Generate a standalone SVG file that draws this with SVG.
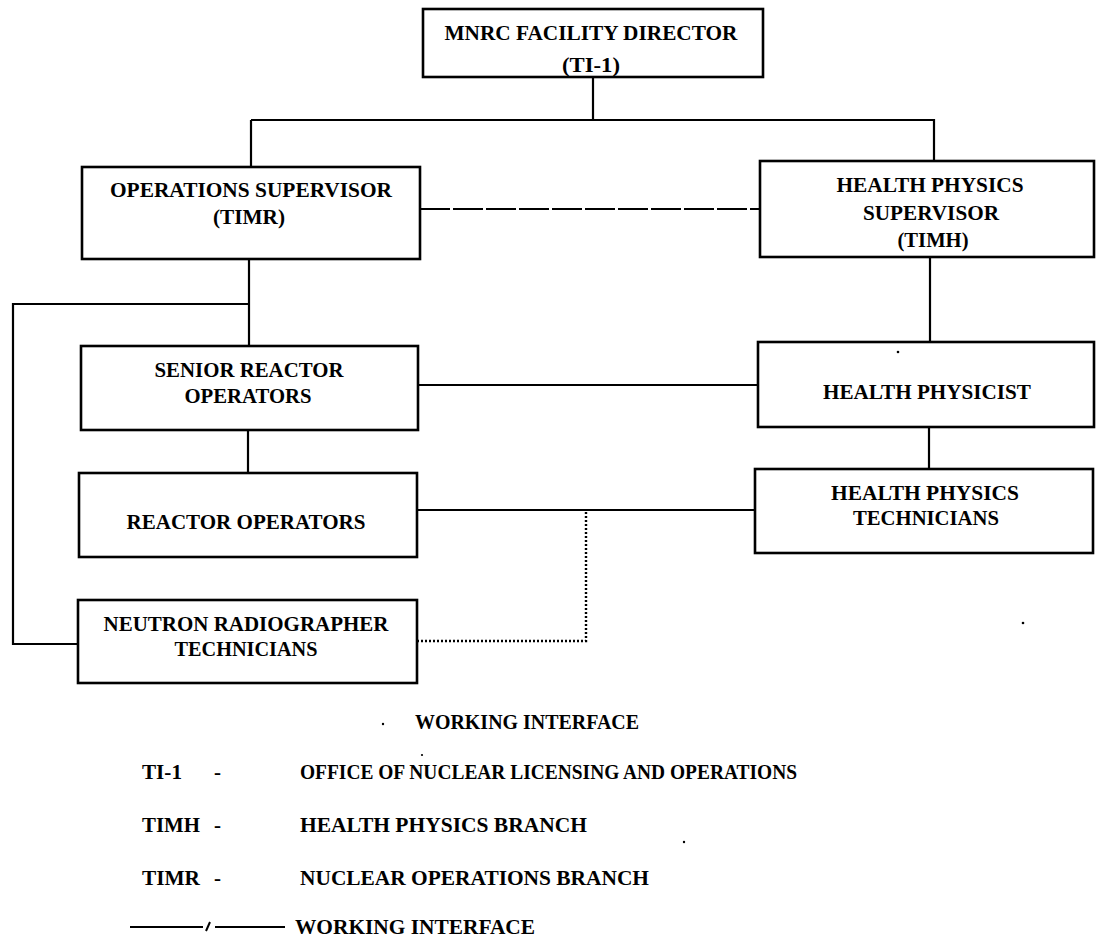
<svg xmlns="http://www.w3.org/2000/svg" width="1096" height="941" viewBox="0 0 1096 941">
<style>
  .box { fill: #ffffff; stroke: #000; stroke-width: 2.6; }
  .t { font-family: "Liberation Serif", "Times New Roman", serif; font-weight: bold; font-size: 21px; fill: #000; text-anchor: middle; }
  .l { font-family: "Liberation Serif", "Times New Roman", serif; font-weight: bold; font-size: 21px; fill: #000; }
  .c { fill: none; stroke: #000; stroke-width: 2.2; }
  .dash { stroke-dasharray: 30 3; }
  .dot { stroke-dasharray: 2 2; stroke-width: 2.4; }
</style>
<rect width="1096" height="941" fill="#ffffff"/>

<g id="connectors">
  <path class="c" d="M593 77 V120"/>
  <path class="c" d="M251 120 H934 V161"/>
  <path class="c" d="M251 120 V167"/>
  <path class="c dash" d="M420 209 H760"/>
  <path class="c" d="M930 257 V342"/>
  <path class="c" d="M249 259 V346"/>
  <path class="c" d="M249 304 H13 V644 H78"/>
  <path class="c" d="M418 385 H758"/>
  <path class="c" d="M929 427 V469"/>
  <path class="c" d="M248 430 V473"/>
  <path class="c" d="M417 510 H755"/>
  <path class="c dot" d="M417 641 H586 V512"/>
</g>

<g id="n-director">
  <rect class="box" x="423" y="9" width="340" height="68"/>
  <text class="t" x="591" y="40" textLength="293" lengthAdjust="spacingAndGlyphs">MNRC FACILITY DIRECTOR</text>
  <text class="t" x="591" y="72" textLength="58" lengthAdjust="spacingAndGlyphs">(TI-1)</text>
</g>

<g id="n-ops-supervisor">
  <rect class="box" x="82" y="167" width="338" height="92"/>
  <text class="t" x="251" y="197" textLength="282" lengthAdjust="spacingAndGlyphs">OPERATIONS SUPERVISOR</text>
  <text class="t" x="249" y="224" textLength="72" lengthAdjust="spacingAndGlyphs">(TIMR)</text>
</g>

<g id="n-hp-supervisor">
  <rect class="box" x="760" y="161" width="334" height="96"/>
  <text class="t" x="930" y="192" textLength="187" lengthAdjust="spacingAndGlyphs">HEALTH PHYSICS</text>
  <text class="t" x="931" y="220" textLength="136" lengthAdjust="spacingAndGlyphs">SUPERVISOR</text>
  <text class="t" x="933" y="247" textLength="71" lengthAdjust="spacingAndGlyphs">(TIMH)</text>
</g>

<g id="n-senior-reactor-operators">
  <rect class="box" x="81" y="346" width="337" height="84"/>
  <text class="t" x="249" y="377" textLength="189" lengthAdjust="spacingAndGlyphs">SENIOR REACTOR</text>
  <text class="t" x="248" y="403" textLength="127" lengthAdjust="spacingAndGlyphs">OPERATORS</text>
</g>

<g id="n-health-physicist">
  <rect class="box" x="758" y="342" width="336" height="85"/>
  <circle cx="898" cy="352" r="1.3" fill="#000"/>
  <text class="t" x="927" y="399" textLength="208" lengthAdjust="spacingAndGlyphs">HEALTH PHYSICIST</text>
</g>

<g id="n-reactor-operators">
  <rect class="box" x="79" y="473" width="338" height="84"/>
  <text class="t" x="246" y="529" textLength="239" lengthAdjust="spacingAndGlyphs">REACTOR OPERATORS</text>
</g>

<g id="n-hp-technicians">
  <rect class="box" x="755" y="469" width="338" height="84"/>
  <text class="t" x="925" y="500" textLength="188" lengthAdjust="spacingAndGlyphs">HEALTH PHYSICS</text>
  <text class="t" x="926" y="525" textLength="146" lengthAdjust="spacingAndGlyphs">TECHNICIANS</text>
</g>

<g id="n-neutron-radiographer">
  <rect class="box" x="78" y="600" width="339" height="83"/>
  <text class="t" x="246" y="631" textLength="285" lengthAdjust="spacingAndGlyphs">NEUTRON RADIOGRAPHER</text>
  <text class="t" x="246" y="656" textLength="143" lengthAdjust="spacingAndGlyphs">TECHNICIANS</text>
</g>

<g id="legend">
  <circle cx="383" cy="724" r="1.2" fill="#000"/>
  <text class="l" x="415" y="729" textLength="224" lengthAdjust="spacingAndGlyphs">WORKING INTERFACE</text>
  <circle cx="422" cy="755" r="1.1" fill="#000"/>
  <text class="l" x="142" y="779" textLength="40" lengthAdjust="spacingAndGlyphs">TI-1</text>
  <text class="l" x="214" y="779">-</text>
  <text class="l" x="300" y="779" textLength="497" lengthAdjust="spacingAndGlyphs">OFFICE OF NUCLEAR LICENSING AND OPERATIONS</text>
  <text class="l" x="142" y="832" textLength="58" lengthAdjust="spacingAndGlyphs">TIMH</text>
  <text class="l" x="214" y="832">-</text>
  <text class="l" x="300" y="832" textLength="287" lengthAdjust="spacingAndGlyphs">HEALTH PHYSICS BRANCH</text>
  <circle cx="684" cy="842" r="1.2" fill="#000"/>
  <text class="l" x="142" y="885" textLength="58" lengthAdjust="spacingAndGlyphs">TIMR</text>
  <text class="l" x="214" y="885">-</text>
  <text class="l" x="300" y="885" textLength="349" lengthAdjust="spacingAndGlyphs">NUCLEAR OPERATIONS BRANCH</text>
  <path d="M130 927 H203 M206 931 L210 922 M215 927 H285" fill="none" stroke="#000" stroke-width="2"/>
  <text class="l" x="295" y="934" textLength="240" lengthAdjust="spacingAndGlyphs">WORKING INTERFACE</text>
  <circle cx="1023" cy="623" r="1.3" fill="#000"/>
</g>
</svg>
